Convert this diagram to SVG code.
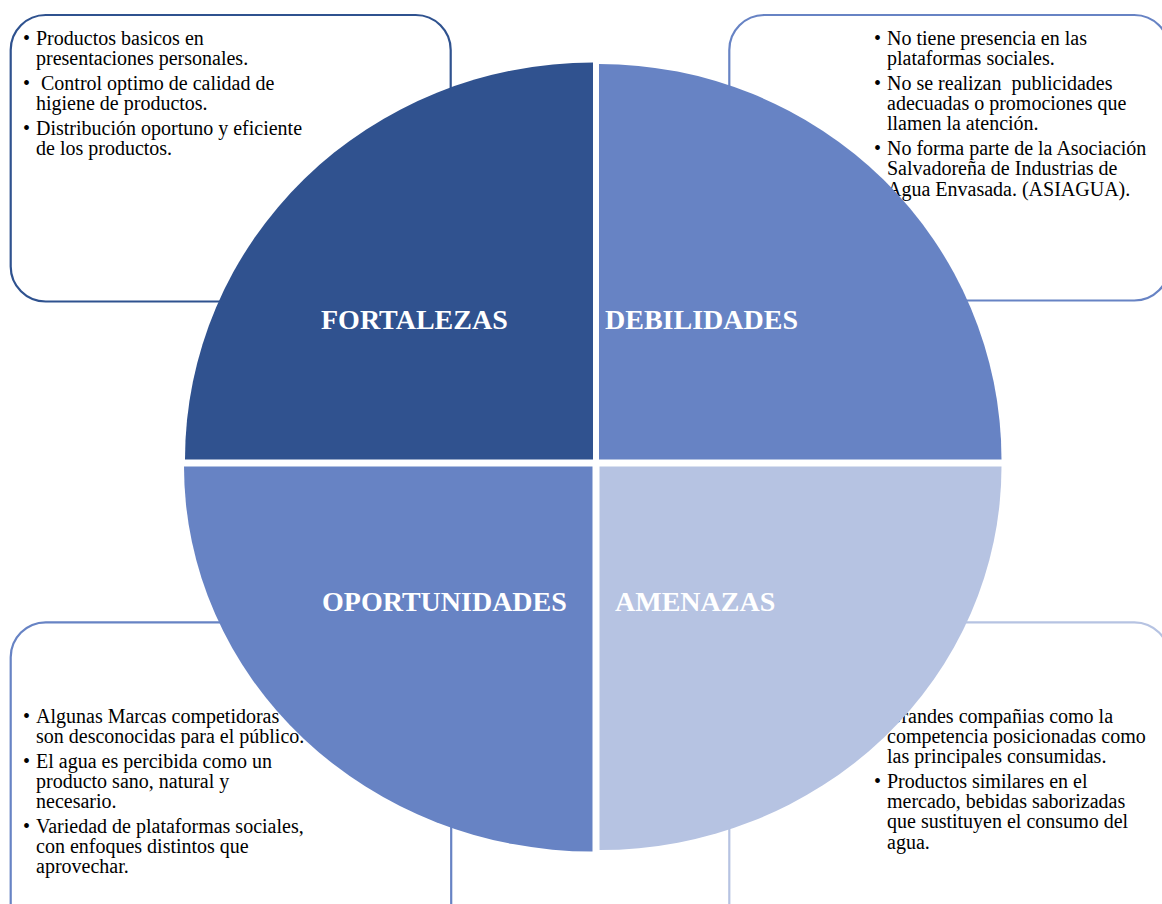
<svg xmlns="http://www.w3.org/2000/svg" width="1162" height="904" viewBox="0 0 1162 904">
<style>
.box{fill:#ffffff;stroke-width:2.2}
.b1{stroke:#2F528F}
.b2{stroke:#6783C4}
.b4{stroke:#B6C3E2}
.t{font-family:"Liberation Serif","Times New Roman",serif;font-size:20px;fill:#000;white-space:pre}
.lab{font-family:"Liberation Serif","Times New Roman",serif;font-size:28px;font-weight:bold;fill:#ffffff}
</style>
<rect width="1162" height="904" fill="#ffffff"/>
<g id="box-fortalezas">
<rect class="box b1" x="10.7" y="15" width="440" height="286.5" rx="35" ry="35"/>
<text class="t" xml:space="preserve"><tspan x="23" y="45">•</tspan><tspan x="36" y="45">Productos basicos en</tspan><tspan x="36" y="65">presentaciones personales.</tspan><tspan x="23" y="90">•</tspan><tspan x="36" y="90"> Control optimo de calidad de</tspan><tspan x="36" y="110">higiene de productos.</tspan><tspan x="23" y="135">•</tspan><tspan x="36" y="135">Distribución oportuno y eficiente</tspan><tspan x="36" y="155">de los productos.</tspan></text>
</g>
<g id="box-debilidades">
<rect class="box b2" x="729.3" y="15" width="440" height="285.5" rx="35" ry="35"/>
<text class="t" xml:space="preserve"><tspan x="874" y="45">•</tspan><tspan x="887" y="45">No tiene presencia en las</tspan><tspan x="887" y="65">plataformas sociales.</tspan><tspan x="874" y="90">•</tspan><tspan x="887" y="90">No se realizan  publicidades</tspan><tspan x="887" y="110">adecuadas o promociones que</tspan><tspan x="887" y="130">llamen la atención.</tspan><tspan x="874" y="155">•</tspan><tspan x="887" y="155">No forma parte de la Asociación</tspan><tspan x="887" y="175">Salvadoreña de Industrias de</tspan><tspan x="887" y="196">Agua Envasada. (ASIAGUA).</tspan></text>
</g>
<g id="box-oportunidades">
<rect class="box b2" x="10.7" y="622.3" width="440.5" height="320" rx="35" ry="35"/>
<text class="t" xml:space="preserve"><tspan x="23" y="723">•</tspan><tspan x="36" y="723">Algunas Marcas competidoras</tspan><tspan x="36" y="743">son desconocidas para el público.</tspan><tspan x="23" y="768">•</tspan><tspan x="36" y="768">El agua es percibida como un</tspan><tspan x="36" y="788">producto sano, natural y</tspan><tspan x="36" y="808">necesario.</tspan><tspan x="23" y="833">•</tspan><tspan x="36" y="833">Variedad de plataformas sociales,</tspan><tspan x="36" y="853">con enfoques distintos que</tspan><tspan x="36" y="873">aprovechar.</tspan></text>
</g>
<g id="box-amenazas">
<rect class="box b4" x="729.3" y="622.3" width="440" height="320" rx="35" ry="35"/>
<text class="t" xml:space="preserve"><tspan x="874" y="723">•</tspan><tspan x="887" y="723">Grandes compañias como la</tspan><tspan x="887" y="743">competencia posicionadas como</tspan><tspan x="887" y="763">las principales consumidas.</tspan><tspan x="874" y="788">•</tspan><tspan x="887" y="788">Productos similares en el</tspan><tspan x="887" y="808">mercado, bebidas saborizadas</tspan><tspan x="887" y="828">que sustituyen el consumo del</tspan><tspan x="887" y="849">agua.</tspan></text>
</g>
<g id="fortalezas">
<path d="M593 459.5 L185 459.5 A408 397 0 0 1 593 62.5 Z" fill="#30528F"/>
<text class="lab" x="321" y="329">FORTALEZAS</text>
</g>
<g id="debilidades">
<path d="M599 459.5 L599 64 A402.5 395.5 0 0 1 1001.5 459.5 Z" fill="#6783C4"/>
<text class="lab" x="605" y="329">DEBILIDADES</text>
</g>
<g id="oportunidades">
<path d="M592.5 466.5 L592.5 851.5 A408.5 385 0 0 1 184 466.5 Z" fill="#6783C4"/>
<text class="lab" x="322" y="611">OPORTUNIDADES</text>
</g>
<g id="amenazas">
<path d="M599.5 466.5 L1001.5 466.5 A402 383.5 0 0 1 599.5 850 Z" fill="#B6C3E2"/>
<text class="lab" x="615" y="611">AMENAZAS</text>
</g>
<g id="connectors"/>
</svg>
